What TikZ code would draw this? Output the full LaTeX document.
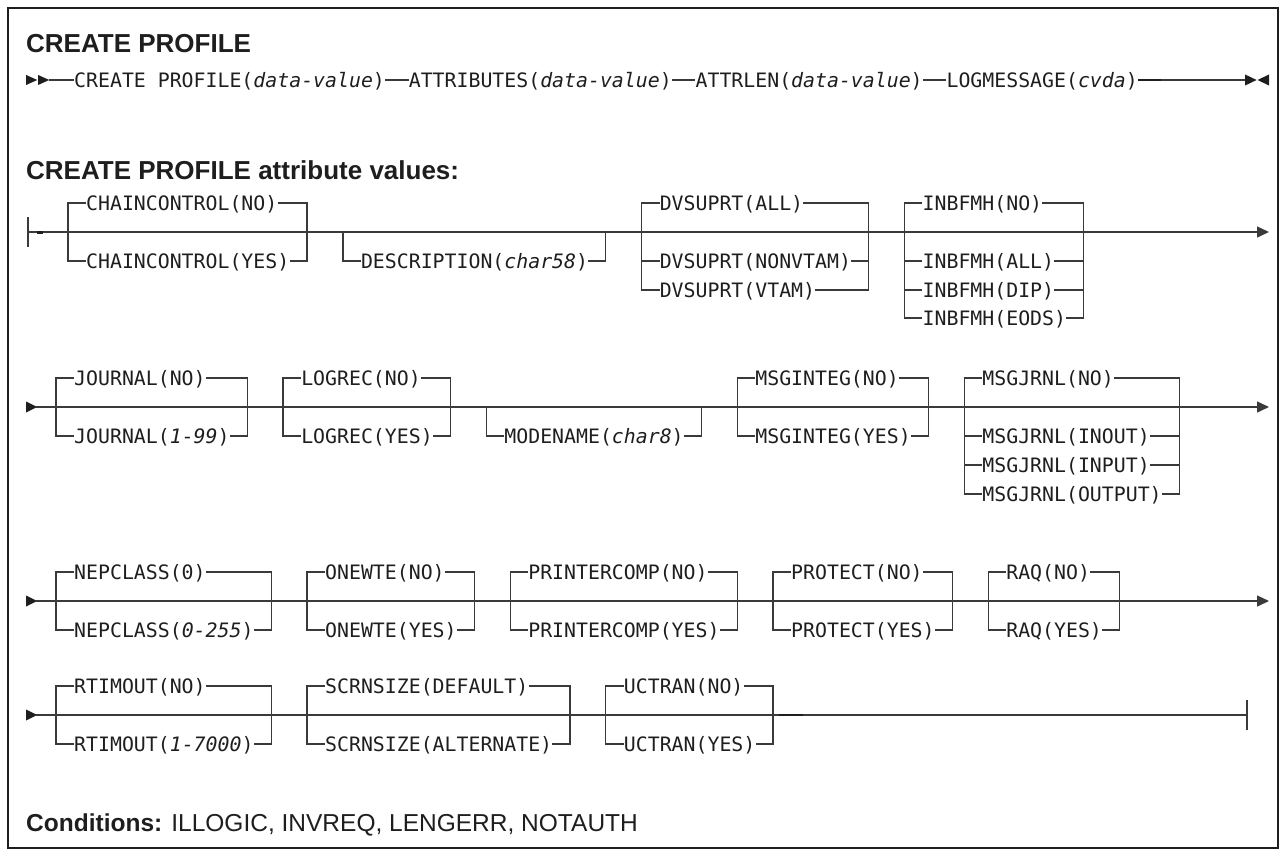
\documentclass[tikz,border=0pt]{standalone}
\usepackage{fontspec}
\setmainfont{Liberation Sans}
\newfontfamily\synfont{DejaVu Sans Mono}
\usetikzlibrary{arrows.meta}
\definecolor{ink}{HTML}{1E1E1E}
\definecolor{railc}{HTML}{3A3A3A}
% character grid of the syntax font: cell start / cell centre
\def\CS#1{(26.2+11.95*(#1))}
\def\CC#1{(32.175+11.95*(#1))}
\begin{document}
\begin{tikzpicture}[x=1pt,y=-1pt,
  syn/.style={inner sep=0pt, anchor=west, text height=14.5pt, text depth=0pt,
    font=\synfont\fontsize{19.85}{24}\selectfont, text=ink},
  head/.style={inner sep=0pt, anchor=base west, text=ink,
    font=\fontsize{26}{30}\selectfont\bfseries},
  rail/.style={draw=railc, line width=1.3pt, line join=miter},
  heavy/.style={draw=ink, line width=2.4pt},
  tip/.style={-{Triangle[length=12pt,width=11pt]}},
  glyph/.style={fill=ink}
]
\useasboundingbox (0,0) rectangle (1281,856);
\draw[draw=ink, line width=1.5pt] (8,8) rectangle (1278,848);

% headings
\node[head] (title) at (26,53) {CREATE PROFILE};
\node[head] (subtitle) at (26,179) {CREATE PROFILE attribute values:};
\node[head, font=\fontsize{24.5}{30}\selectfont\bfseries] (cond) at (26,831)
  {Conditions: \mdseries ILLOGIC, INVREQ, LENGERR, NOTAUTH};

% ---------------- main command ----------------
\def\y{80}
\fill[glyph] ({\CS{0}},\y-5) -- ({\CS{0}+11},\y) -- ({\CS{0}},\y+5) -- cycle;
\fill[glyph] ({\CS{1}},\y-5) -- ({\CS{1}+11},\y) -- ({\CS{1}},\y+5) -- cycle;
\coordinate (m0) at ({\CS{2}-1},\y);
\node[syn] (cp) at ({\CS{4}},\y) {CREATE PROFILE(\textit{data-value})};
\node[syn] (at) at ({\CS{32}},\y) {ATTRIBUTES(\textit{data-value})};
\node[syn] (al) at ({\CS{56}},\y) {ATTRLEN(\textit{data-value})};
\node[syn] (lm) at ({\CS{77}},\y) {LOGMESSAGE(\textit{cvda})};
\coordinate (mh) at ({\CS{95}},\y);
\coordinate (m1) at ({\CS{102}},\y);
\draw[rail] (m0) -- (cp.west) (cp.east) -- (at.west) (at.east) -- (al.west)
  (al.east) -- (lm.west) (mh) -- (m1);
\draw[heavy] (lm.east) -- (mh);
\fill[glyph] ({\CS{102}},\y-5.5) -- ({\CS{102}+11.5},\y) -- ({\CS{102}},\y+5.5) -- cycle;
\fill[glyph] ({\CS{104}},\y-5.5) -- ({\CS{104}-11.5},\y) -- ({\CS{104}},\y+5.5) -- cycle;

% ---------------- attributes, line 1 ----------------
\def\y{232}\def\u{203}\def\la{261}\def\lb{290}\def\lc{318}
\coordinate (a0) at (28,\y);
\coordinate (a1) at (1269,\y);
\draw[rail] (28,\y-15) -- (28,\y+15);
\draw[rail,tip] (a0) -- (a1);
\draw[heavy] (37,\y+0.5) -- (43,\y+0.5);
% CHAINCONTROL
\node[syn] (cc1) at ({\CS{5}},\u) {CHAINCONTROL(NO)};
\node[syn] (cc2) at ({\CS{5}},\la) {CHAINCONTROL(YES)};
\draw[rail] (cc1.west) -- ({\CC{3}},\u) -- ({\CC{3}},\la) -- (cc2.west);
\draw[rail] (cc1.east) -- ({\CC{23}},\u) -- ({\CC{23}},\la) -- (cc2.east);
% DESCRIPTION
\node[syn] (de) at ({\CS{28}},\la) {DESCRIPTION(\textit{char58})};
\draw[rail] ({\CC{26}},\y) -- ({\CC{26}},\la) -- (de.west);
\draw[rail] (de.east) -- ({\CC{48}},\la) -- ({\CC{48}},\y);
% DVSUPRT
\node[syn] (dv1) at ({\CS{53}},\u) {DVSUPRT(ALL)};
\node[syn] (dv2) at ({\CS{53}},\la) {DVSUPRT(NONVTAM)};
\node[syn] (dv3) at ({\CS{53}},\lb) {DVSUPRT(VTAM)};
\draw[rail] (dv1.west) -- ({\CC{51}},\u) -- ({\CC{51}},\lb) -- (dv3.west)
  ({\CC{51}},\la) -- (dv2.west);
\draw[rail] (dv1.east) -- ({\CC{70}},\u) -- ({\CC{70}},\lb) -- (dv3.east)
  (dv2.east) -- ({\CC{70}},\la);
% INBFMH
\node[syn] (ib1) at ({\CS{75}},\u) {INBFMH(NO)};
\node[syn] (ib2) at ({\CS{75}},\la) {INBFMH(ALL)};
\node[syn] (ib3) at ({\CS{75}},\lb) {INBFMH(DIP)};
\node[syn] (ib4) at ({\CS{75}},\lc) {INBFMH(EODS)};
\draw[rail] (ib1.west) -- ({\CC{73}},\u) -- ({\CC{73}},\lc) -- (ib4.west)
  ({\CC{73}},\la) -- (ib2.west) ({\CC{73}},\lb) -- (ib3.west);
\draw[rail] (ib1.east) -- ({\CC{88}},\u) -- ({\CC{88}},\lc) -- (ib4.east)
  (ib2.east) -- ({\CC{88}},\la) (ib3.east) -- ({\CC{88}},\lb);

% ---------------- attributes, line 2 ----------------
\def\y{407}\def\u{378}\def\la{436}\def\lb{465}\def\lc{494}
\fill[glyph] ({\CS{0}},\y-5.5) -- ({\CS{0}+11},\y) -- ({\CS{0}},\y+5.5) -- cycle;
\coordinate (b0) at ({\CS{0}+10},\y);
\coordinate (b1) at (1269,\y);
\draw[rail,tip] (b0) -- (b1);
% JOURNAL
\node[syn] (jo1) at ({\CS{4}},\u) {JOURNAL(NO)};
\node[syn] (jo2) at ({\CS{4}},\la) {JOURNAL(\textit{1-99})};
\draw[rail] (jo1.west) -- ({\CC{2}},\u) -- ({\CC{2}},\la) -- (jo2.west);
\draw[rail] (jo1.east) -- ({\CC{18}},\u) -- ({\CC{18}},\la) -- (jo2.east);
% LOGREC
\node[syn] (lr1) at ({\CS{23}},\u) {LOGREC(NO)};
\node[syn] (lr2) at ({\CS{23}},\la) {LOGREC(YES)};
\draw[rail] (lr1.west) -- ({\CC{21}},\u) -- ({\CC{21}},\la) -- (lr2.west);
\draw[rail] (lr1.east) -- ({\CC{35}},\u) -- ({\CC{35}},\la) -- (lr2.east);
% MODENAME
\node[syn] (mn) at ({\CS{40}},\la) {MODENAME(\textit{char8})};
\draw[rail] ({\CC{38}},\y) -- ({\CC{38}},\la) -- (mn.west);
\draw[rail] (mn.east) -- ({\CC{56}},\la) -- ({\CC{56}},\y);
% MSGINTEG
\node[syn] (mi1) at ({\CS{61}},\u) {MSGINTEG(NO)};
\node[syn] (mi2) at ({\CS{61}},\la) {MSGINTEG(YES)};
\draw[rail] (mi1.west) -- ({\CC{59}},\u) -- ({\CC{59}},\la) -- (mi2.west);
\draw[rail] (mi1.east) -- ({\CC{75}},\u) -- ({\CC{75}},\la) -- (mi2.east);
% MSGJRNL
\node[syn] (mj1) at ({\CS{80}},\u) {MSGJRNL(NO)};
\node[syn] (mj2) at ({\CS{80}},\la) {MSGJRNL(INOUT)};
\node[syn] (mj3) at ({\CS{80}},\lb) {MSGJRNL(INPUT)};
\node[syn] (mj4) at ({\CS{80}},\lc) {MSGJRNL(OUTPUT)};
\draw[rail] (mj1.west) -- ({\CC{78}},\u) -- ({\CC{78}},\lc) -- (mj4.west)
  ({\CC{78}},\la) -- (mj2.west) ({\CC{78}},\lb) -- (mj3.west);
\draw[rail] (mj1.east) -- ({\CC{96}},\u) -- ({\CC{96}},\lc) -- (mj4.east)
  (mj2.east) -- ({\CC{96}},\la) (mj3.east) -- ({\CC{96}},\lb);

% ---------------- attributes, line 3 ----------------
\def\y{601}\def\u{572}\def\la{630}
\fill[glyph] ({\CS{0}},\y-5.5) -- ({\CS{0}+11},\y) -- ({\CS{0}},\y+5.5) -- cycle;
\coordinate (c0) at ({\CS{0}+10},\y);
\coordinate (c1) at (1269,\y);
\draw[rail,tip] (c0) -- (c1);
% NEPCLASS
\node[syn] (ne1) at ({\CS{4}},\u) {NEPCLASS(0)};
\node[syn] (ne2) at ({\CS{4}},\la) {NEPCLASS(\textit{0-255})};
\draw[rail] (ne1.west) -- ({\CC{2}},\u) -- ({\CC{2}},\la) -- (ne2.west);
\draw[rail] (ne1.east) -- ({\CC{20}},\u) -- ({\CC{20}},\la) -- (ne2.east);
% ONEWTE
\node[syn] (ow1) at ({\CS{25}},\u) {ONEWTE(NO)};
\node[syn] (ow2) at ({\CS{25}},\la) {ONEWTE(YES)};
\draw[rail] (ow1.west) -- ({\CC{23}},\u) -- ({\CC{23}},\la) -- (ow2.west);
\draw[rail] (ow1.east) -- ({\CC{37}},\u) -- ({\CC{37}},\la) -- (ow2.east);
% PRINTERCOMP
\node[syn] (pc1) at ({\CS{42}},\u) {PRINTERCOMP(NO)};
\node[syn] (pc2) at ({\CS{42}},\la) {PRINTERCOMP(YES)};
\draw[rail] (pc1.west) -- ({\CC{40}},\u) -- ({\CC{40}},\la) -- (pc2.west);
\draw[rail] (pc1.east) -- ({\CC{59}},\u) -- ({\CC{59}},\la) -- (pc2.east);
% PROTECT
\node[syn] (pr1) at ({\CS{64}},\u) {PROTECT(NO)};
\node[syn] (pr2) at ({\CS{64}},\la) {PROTECT(YES)};
\draw[rail] (pr1.west) -- ({\CC{62}},\u) -- ({\CC{62}},\la) -- (pr2.west);
\draw[rail] (pr1.east) -- ({\CC{77}},\u) -- ({\CC{77}},\la) -- (pr2.east);
% RAQ
\node[syn] (rq1) at ({\CS{82}},\u) {RAQ(NO)};
\node[syn] (rq2) at ({\CS{82}},\la) {RAQ(YES)};
\draw[rail] (rq1.west) -- ({\CC{80}},\u) -- ({\CC{80}},\la) -- (rq2.west);
\draw[rail] (rq1.east) -- ({\CC{91}},\u) -- ({\CC{91}},\la) -- (rq2.east);

% ---------------- attributes, line 4 ----------------
\def\y{715}\def\u{686}\def\la{744}
\fill[glyph] ({\CS{0}},\y-5.5) -- ({\CS{0}+11},\y) -- ({\CS{0}},\y+5.5) -- cycle;
\coordinate (d0) at ({\CS{0}+10},\y);
\coordinate (d1) at (1247,\y);
\draw[rail] (d0) -- (d1);
\draw[rail] (1247,\y-15) -- (1247,\y+15);
% RTIMOUT
\node[syn] (rt1) at ({\CS{4}},\u) {RTIMOUT(NO)};
\node[syn] (rt2) at ({\CS{4}},\la) {RTIMOUT(\textit{1-7000})};
\draw[rail] (rt1.west) -- ({\CC{2}},\u) -- ({\CC{2}},\la) -- (rt2.west);
\draw[rail] (rt1.east) -- ({\CC{20}},\u) -- ({\CC{20}},\la) -- (rt2.east);
% SCRNSIZE
\node[syn] (sc1) at ({\CS{25}},\u) {SCRNSIZE(DEFAULT)};
\node[syn] (sc2) at ({\CS{25}},\la) {SCRNSIZE(ALTERNATE)};
\draw[rail] (sc1.west) -- ({\CC{23}},\u) -- ({\CC{23}},\la) -- (sc2.west);
\draw[rail] (sc1.east) -- ({\CC{45}},\u) -- ({\CC{45}},\la) -- (sc2.east);
% UCTRAN
\node[syn] (uc1) at ({\CS{50}},\u) {UCTRAN(NO)};
\node[syn] (uc2) at ({\CS{50}},\la) {UCTRAN(YES)};
\draw[rail] (uc1.west) -- ({\CC{48}},\u) -- ({\CC{48}},\la) -- (uc2.west);
\draw[rail] (uc1.east) -- ({\CC{62}},\u) -- ({\CC{62}},\la) -- (uc2.east);
\draw[heavy] ({\CS{63}},\y) -- ({\CS{65}},\y);
\end{tikzpicture}
\end{document}
